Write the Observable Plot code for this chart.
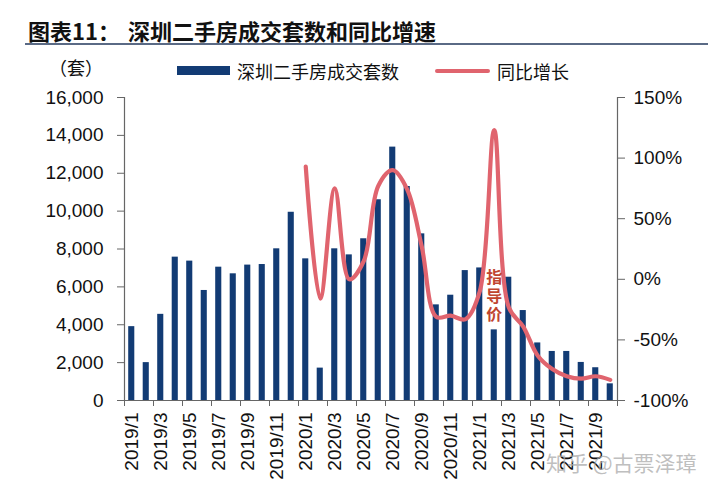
<!DOCTYPE html>
<html><head><meta charset="utf-8">
<script src="https://cdn.jsdelivr.net/npm/d3@7"></script>
<script src="https://cdn.jsdelivr.net/npm/@observablehq/plot@0.6"></script>
<style>
body{margin:0;background:#fff;}
#wrap{position:relative;width:720px;height:490px;overflow:hidden;font-family:"Noto Sans CJK SC","Noto Sans",sans-serif;color:#111;}
.abs{position:absolute;white-space:nowrap;line-height:1;}
#chart{position:absolute;left:0;top:80px;}
</style></head><body>
<div id="wrap">
  <div class="abs" style="left:28px;top:19px;font-size:22px;font-weight:700;">图表11：</div>
  <div class="abs" style="left:128px;top:19px;font-size:22px;font-weight:700;">深圳二手房成交套数和同比增速</div>
  <div class="abs" style="left:25px;top:43px;width:683px;height:2px;background:#5a6a85;"></div>
  <div class="abs" style="left:49px;top:58px;font-size:18px;">（套）</div>
  <div class="abs" style="left:177px;top:66px;width:53px;height:9px;background:#123b74;"></div>
  <div class="abs" style="left:237px;top:62px;font-size:18px;">深圳二手房成交套数</div>
  <div class="abs" style="left:435px;top:69px;width:55px;height:4px;border-radius:2px;background:#e0646e;"></div>
  <div class="abs" style="left:497px;top:62px;font-size:18px;">同比增长</div>
  <div id="chart"></div>
  <div class="abs" style="left:546px;top:452px;font-size:21px;color:rgba(170,170,170,0.75);z-index:2;">知乎 @古票泽璋</div>
</div>
<script>
// categories (months)
const months = [
  "2019/1","2019/2","2019/3","2019/4","2019/5","2019/6","2019/7","2019/8","2019/9","2019/10","2019/11","2019/12",
  "2020/1","2020/2","2020/3","2020/4","2020/5","2020/6","2020/7","2020/8","2020/9","2020/10","2020/11","2020/12",
  "2021/1","2021/2","2021/3","2021/4","2021/5","2021/6","2021/7","2021/8","2021/9","2021/10"
];
// 深圳二手房成交套数
const deals = [
  3900, 2000, 4550, 7570, 7360, 5810, 7040, 6690, 7150, 7180, 8010, 9940,
  7480, 1710, 8010, 7690, 8540, 10600, 13380, 11300, 8800, 5050, 5560, 6860,
  7000, 3730, 6510, 4750, 3040, 2590, 2590, 2010, 1730, 880
];
// 同比增长 (%), from 2020/1
const yoyMonths = months.slice(12);
const yoy = [93, -16, 75, 0, 15, 77, 90, 74, 27, -31, -30, -33, -10, 123, -23, -39, -63, -74, -80, -82, -80, -83];
// axis ticks
const leftTicks = [0, 2000, 4000, 6000, 8000, 10000, 12000, 14000, 16000];
const rightTicks = [-100, -50, 0, 50, 100, 150];
const xLabels = ["2019/1","2019/3","2019/5","2019/7","2019/9","2019/11","2020/1","2020/3","2020/5","2020/7","2020/9","2020/11","2021/1","2021/3","2021/5","2021/7","2021/9"];
// annotation
const note = {month: "2021/2", value: 5545, text: "指\n导\n价"};

const leftMax = 16000, pMin = -100, pMax = 150;
const toLeft = p => (p - pMin) / (pMax - pMin) * leftMax;
const fromLeft = v => v / leftMax * (pMax - pMin) + pMin;
const idx = m => months.indexOf(m);

const bars = months.map((m, i) => ({i, v: deals[i]}));
const line = yoyMonths.map((m, k) => ({i: idx(m), p: yoy[k]}));
const boundaryTicks = d3.range(0, months.length + 1, 2);

const axisColor = "#666";
const chart = Plot.plot({
  width: 720, height: 410,
  marginTop: 17, marginBottom: 90, marginLeft: 124, marginRight: 103,
  style: {fontFamily: "'Liberation Sans', Arial, sans-serif", fontSize: "19px", color: "#111", background: "transparent"},
  x: {type: "linear", domain: [0, months.length]},
  y: {domain: [0, leftMax]},
  marks: [
    Plot.rectY(bars, {x1: d => d.i + 0.29, x2: d => d.i + 0.71, y: "v", fill: "#123b74"}),
    Plot.line(line, {x: d => d.i + 0.5, y: d => toLeft(d.p), stroke: "#e0646e", strokeWidth: 4.2, curve: "catmull-rom"}),
    Plot.text([note], {x: d => idx(d.month) + 0.5, y: "value", text: "text", fill: "#c0452f", fontSize: 16, fontWeight: 600, lineHeight: 1.18, lineAnchor: "middle", fontFamily: "'Noto Sans CJK SC', sans-serif"}),
    Plot.ruleX([0, months.length], {stroke: axisColor, strokeWidth: 1.2}),
    Plot.ruleY([0], {stroke: axisColor, strokeWidth: 1.2}),
    Plot.axisY({ticks: leftTicks, tickFormat: d3.format(","), tickSize: 7, tickPadding: 14, stroke: axisColor, fill: "#111", fontSize: 19, label: null}),
    Plot.axisY({anchor: "right", ticks: rightTicks.map(toLeft), tickFormat: v => Math.round(fromLeft(v)) + "%", tickSize: 7, tickPadding: 9, stroke: axisColor, fill: "#111", fontSize: 19, label: null}),
    Plot.axisX({ticks: boundaryTicks, tickFormat: () => "", tickSize: 6, stroke: axisColor, label: null}),
    Plot.axisX({ticks: xLabels.map(m => idx(m) + 0.5), tickFormat: v => months[Math.round(v - 0.5)], tickSize: 0, tickPadding: 12, tickRotate: -90, fill: "#111", fontSize: 19, label: null})
  ]
});
document.getElementById("chart").appendChild(chart);
</script>
</body></html>
